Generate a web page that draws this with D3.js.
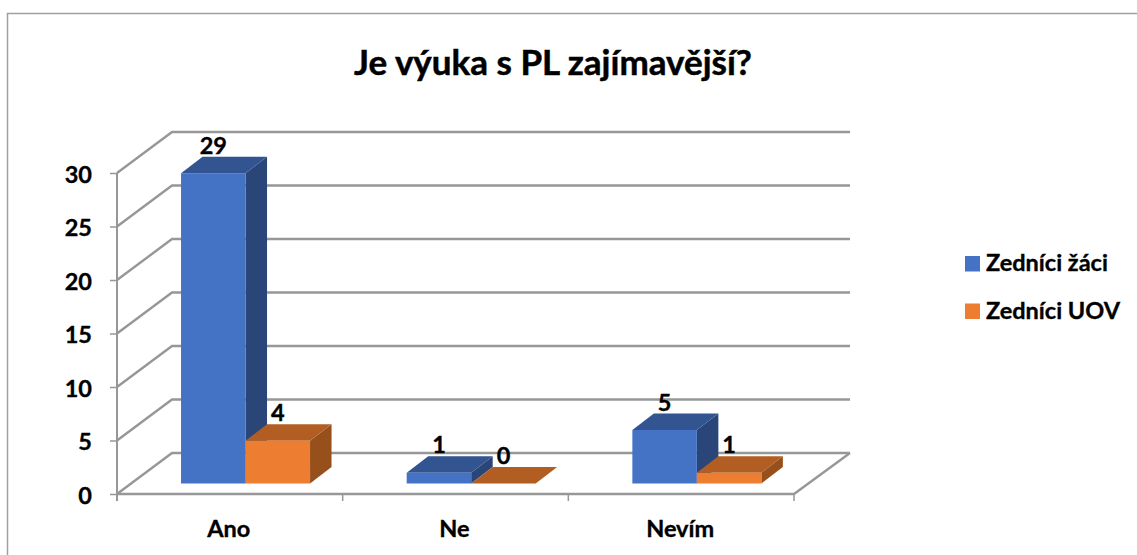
<!DOCTYPE html>
<meta charset="utf-8">
<style>
  html, body { margin: 0; background: #fff; }
  text { font-family: Lato, "Open Sans", sans-serif; font-weight: 700; fill: #000; stroke: #000; stroke-width: 0.35px; }
  .axis .domain { display: none; }
</style>
<div id="chart"></div>
<script src="https://cdnjs.cloudflare.com/ajax/libs/d3/7.8.5/d3.min.js"></script>
<script>
var title = "Je výuka s PL zajímavější?";
var categories = ["Ano", "Ne", "Nevím"];
var seriesNames = ["Zedníci žáci", "Zedníci UOV"];
var zaci = [29, 1, 5];
var uov = [4, 0, 1];
var yTicks = [0, 5, 10, 15, 20, 25, 30];

var width = 1137, height = 555;
var gridCol = "#979797";
var colors = [
  { front: "#4472c4", top: "#325592", side: "#2a4679" },
  { front: "#ed7d31", top: "#b25e22", side: "#97501c" }
];

// depth of the 3d box
var wallDx = 55, wallDy = -41;
var barDx = 21.5, barDy = -16.5;
var baseLift = 10.5;

var svg = d3.select("#chart").append("svg")
  .attr("width", width).attr("height", height).style("display", "block");

// chart frame
svg.append("path")
  .attr("d", "M7.5," + height + "V13.5H" + width)
  .attr("fill", "none").attr("stroke", "#a0a0a0").attr("stroke-width", 1.5);

var x = d3.scaleBand().domain(categories).range([117, 794]);
var y = d3.scaleLinear().domain([0, 30]).range([494, 173]);
var barW = 64.5;

// grid: one bent line per tick, along the side wall then the back wall
yTicks.forEach(function (t) {
  svg.append("path")
    .attr("d", d3.line()([
      [x.range()[0], y(t)],
      [x.range()[0] + wallDx, y(t) + wallDy],
      [x.range()[1] + wallDx + 1, y(t) + wallDy]
    ]))
    .attr("fill", "none").attr("stroke", gridCol).attr("stroke-width", 2.4);
});

// floor edges
svg.append("path")
  .attr("d", d3.line()([
    [x.range()[0], y(0)],
    [x.range()[1], y(0)],
    [x.range()[1] + wallDx + 1, y(0) + wallDy]
  ]))
  .attr("fill", "none").attr("stroke", gridCol).attr("stroke-width", 2.4);

// y axis
var yAxis = svg.append("g").attr("class", "axis")
  .attr("transform", "translate(" + x.range()[0] + ",0)")
  .call(d3.axisLeft(y).tickValues(yTicks).tickSize(7).tickPadding(18));
yAxis.append("line")
  .attr("y1", y(30)).attr("y2", y(0) + 7)
  .attr("stroke", gridCol).attr("stroke-width", 2);
yAxis.selectAll(".tick line").attr("stroke", gridCol).attr("stroke-width", 1.5);
yAxis.selectAll("text").style("font-size", "23.5px").attr("dy", "0.4em").attr("fill", "#000");

// x axis labels, ticks fall on the band edges
var xAxis = svg.append("g").attr("class", "axis")
  .attr("transform", "translate(0," + y(0) + ")")
  .call(d3.axisBottom(x).tickSize(0).tickPadding(26));
xAxis.selectAll("text").style("font-size", "23.5px").attr("dx", -1).attr("fill", "#000");
d3.range(categories.length + 1).forEach(function (i) {
  xAxis.append("line")
    .attr("x1", x.range()[0] + i * x.step()).attr("x2", x.range()[0] + i * x.step())
    .attr("y1", 0).attr("y2", 7)
    .attr("stroke", gridCol).attr("stroke-width", 1.5);
});

var yBar = function (v) { return y(v) - baseLift; };
var groupX = function (c) { return x(c) + x.bandwidth() / 2 - barW + 15.7; };

function drawBox(px, val, col) {
  var y0 = y(0) - baseLift;
  var y1 = yBar(val);
  var g = svg.append("g");
  // side
  g.append("path").attr("fill", col.side)
    .attr("d", d3.line()([[px + barW, y1], [px + barW + barDx, y1 + barDy], [px + barW + barDx, y0 + barDy], [px + barW, y0]]));
  // top
  g.append("path").attr("fill", col.top)
    .attr("d", d3.line()([[px, y1], [px + barDx, y1 + barDy], [px + barW + barDx, y1 + barDy], [px + barW, y1]]));
  // front
  g.append("rect").attr("fill", col.front)
    .attr("x", px).attr("y", y1).attr("width", barW).attr("height", y0 - y1);
}

categories.forEach(function (c, i) {
  var px = groupX(c);
  drawBox(px, zaci[i], colors[0]);
  drawBox(px + barW, uov[i], colors[1]);
});

// value labels
categories.forEach(function (c, i) {
  [zaci[i], uov[i]].forEach(function (v, s) {
    svg.append("text")
      .attr("x", groupX(c) + barW * s + barW / 2)
      .attr("y", yBar(v) + barDy - 3)
      .attr("text-anchor", "middle")
      .style("font-size", "23.5px")
      .text(v);
  });
});

// title
svg.append("text")
  .attr("x", 553).attr("y", 75)
  .attr("text-anchor", "middle")
  .style("font-size", "35px")
  .style("stroke-width", "0.5px")
  .text(title);

// legend
var legendY = d3.scalePoint().domain(seriesNames).range([263.5, 311]);
seriesNames.forEach(function (n, i) {
  svg.append("rect")
    .attr("x", 965).attr("y", legendY(n) - 7.5)
    .attr("width", 15).attr("height", 15.5)
    .attr("fill", colors[i].front);
  svg.append("text")
    .attr("x", 986).attr("y", legendY(n) + 7.5)
    .style("font-size", "23.5px")
    .text(n);
});
</script>
